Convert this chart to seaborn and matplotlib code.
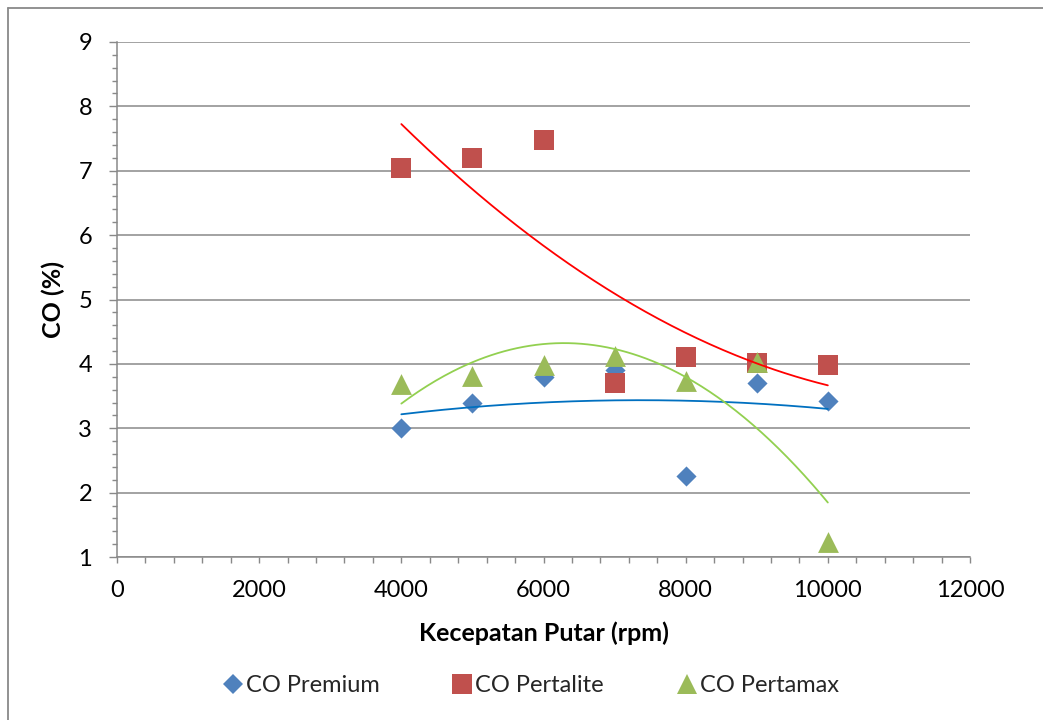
import numpy as np
import pandas as pd
import matplotlib
matplotlib.use("Agg")
import matplotlib.pyplot as plt
from matplotlib.ticker import MultipleLocator
from matplotlib.lines import Line2D
import seaborn as sns

# ---- data ----
rpm = [4000, 5000, 6000, 7000, 8000, 9000, 10000]
co_premium = [3.00, 3.39, 3.80, 3.90, 2.26, 3.71, 3.43]
co_pertalite = [7.05, 7.20, 7.47, 3.70, 4.10, 4.02, 3.98]
co_pertamax = [3.68, 3.81, 3.99, 4.12, 3.73, 4.03, 1.23]
series_names = ["CO Premium", "CO Pertalite", "CO Pertamax"]
x_ticks = [0, 2000, 4000, 6000, 8000, 10000, 12000]
y_ticks = [1, 2, 3, 4, 5, 6, 7, 8, 9]

sns.set_theme(style="white")
plt.rcParams["font.family"] = ["Lato", "DejaVu Sans"]

W, H = 1043, 720
fig = plt.figure(figsize=(W / 100, H / 100), dpi=100)
ax = fig.add_axes([117 / W, 1 - 557 / H, (970 - 117) / W, (557 - 42) / H])

marker_colors = ["#4F81BD", "#C0504D", "#9BBB59"]
trend_colors = ["#0070C0", "#FF0000", "#92D050"]
markers = ["D", "s", "^"]
sizes = [105, 215, 225]
values = [co_premium, co_pertalite, co_pertamax]

for name, vals, mk, sz, col in zip(series_names, values, markers, sizes, marker_colors):
    df = pd.DataFrame({"rpm": rpm, "co": vals})
    sns.scatterplot(data=df, x="rpm", y="co", marker=mk, s=sz, color=col,
                    linewidth=0, ax=ax, zorder=3, legend=False)

# polynomial (order 2) trendlines, as in the source chart
xs = np.linspace(min(rpm), max(rpm), 200)
for vals, col in zip(values, trend_colors):
    coef = np.polyfit(rpm, vals, 2)
    ax.plot(xs, np.polyval(coef, xs), color=col, lw=1.3, zorder=4)

ax.set_xlim(0, 12000)
ax.set_ylim(1, 9)
ax.set_xticks(x_ticks)
ax.set_yticks(y_ticks)
ax.xaxis.set_minor_locator(MultipleLocator(400))
ax.yaxis.set_minor_locator(MultipleLocator(0.2))

gray = "#898989"
ax.grid(axis="y", which="major", color=gray, lw=1.1)
ax.grid(axis="x", visible=False)
ax.set_axisbelow(True)
for s in ["top", "right"]:
    ax.spines[s].set_visible(False)
for s in ["left", "bottom"]:
    ax.spines[s].set_color(gray)
    ax.spines[s].set_linewidth(1.1)

ax.tick_params(axis="x", which="both", direction="out", length=4.5, width=1, color=gray,
               bottom=True, labelsize=17, pad=12, labelcolor="black")
ax.tick_params(axis="y", which="major", direction="out", length=6, width=1, color=gray,
               left=True, labelsize=17, pad=12, labelcolor="black")
ax.tick_params(axis="y", which="minor", direction="out", length=3.8, width=1, color=gray, left=True)

ax.set_xlabel("Kecepatan Putar (rpm)", fontsize=18, fontweight="bold", color="black")
ax.set_ylabel("CO (%)", fontsize=18, fontweight="bold", color="black")
ax.xaxis.set_label_coords(0.5, (557 - 633) / 515)
ax.yaxis.set_label_coords((53 - 117) / 853, 0.5)
ax.xaxis.label.set_verticalalignment("center")
ax.yaxis.label.set_verticalalignment("center")

handles = [Line2D([], [], marker=mk, color=col, linestyle="none", markersize=ms, markeredgewidth=0)
           for mk, col, ms in zip(markers, marker_colors, [10.5, 14, 14])]
fig.legend(handles, series_names, loc="center", bbox_to_anchor=(530 / W, 1 - 686 / H),
           ncol=3, frameon=False, fontsize=17, handletextpad=0.05, columnspacing=3.0,
           handlelength=1.0)

# outer chart border
fig.add_artist(Line2D([8 / W, 1.0], [1 - 8 / H, 1 - 8 / H], color=gray, lw=1.3,
                      transform=fig.transFigure))
fig.add_artist(Line2D([8 / W, 8 / W], [0.0, 1 - 8 / H], color=gray, lw=1.3,
                      transform=fig.transFigure))

fig.savefig("out.png", dpi=100, facecolor="white")
